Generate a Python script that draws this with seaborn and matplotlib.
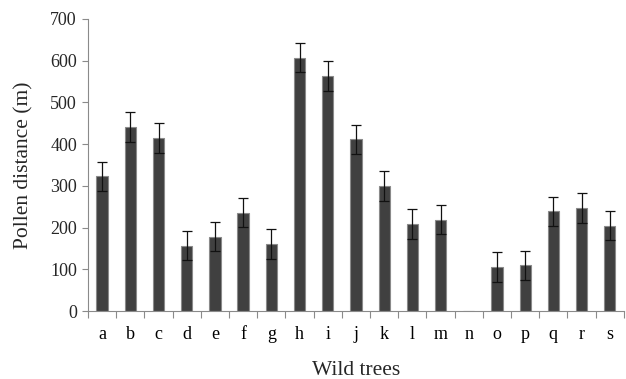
import numpy as np
import pandas as pd
import matplotlib
matplotlib.use("Agg")
import matplotlib.pyplot as plt
import seaborn as sns

# data
trees = list("abcdefghijklmnopqrs")
distance = [323, 441, 415, 157, 178, 236, 161, 607, 563, 412, 300, 209, 219, 0, 106, 110, 239, 247, 205]
error = [35, 35, 35, 35, 35, 35, 35, 35, 36, 35, 35, 35, 35, 0, 35, 35, 35, 35, 35]

sns.set_theme(style="white")
plt.rcParams["font.family"] = ["Liberation Serif", "DejaVu Serif"]

df = pd.DataFrame({"tree": trees, "distance": distance, "err": error})

fig = plt.figure(figsize=(6.26, 3.79), dpi=100)
ax = fig.add_axes([0.1406, 0.179, 0.856, 0.771])

sns.barplot(data=df, x="tree", y="distance", color="#404040", width=0.4,
            edgecolor="#8a8a8a", linewidth=0.8, saturation=1, ax=ax)

has_bar = df["distance"] > 0
ax.errorbar(np.arange(len(df))[has_bar], df["distance"][has_bar], yerr=df["err"][has_bar],
            fmt="none", ecolor="#111111", elinewidth=0.9, capsize=3.5, capthick=0.9)

ax.set_ylim(0, 700)
ax.set_xlim(-0.5, len(trees) - 0.5)
ax.set_yticks(range(0, 701, 100))
ax.set_xticks(np.arange(-0.5, len(trees)), minor=True)

ax.tick_params(axis="x", which="major", length=0, labelsize=13, pad=11, colors="black")
ax.tick_params(axis="x", which="minor", length=5, width=0.8, direction="out", color="#8a8a8a", bottom=True)
ax.tick_params(axis="y", length=4, width=0.8, direction="out", color="#8a8a8a", labelsize=13, pad=4, left=True)

for s in ["top", "right"]:
    ax.spines[s].set_visible(False)
for s in ["left", "bottom"]:
    ax.spines[s].set_color("#8a8a8a")
    ax.spines[s].set_linewidth(0.8)

ax.set_xlabel("Wild trees", fontsize=15.5, labelpad=13)
ax.set_ylabel("Pollen distance (m)", fontsize=15.5, labelpad=12)

fig.savefig("out.png", dpi=100)
